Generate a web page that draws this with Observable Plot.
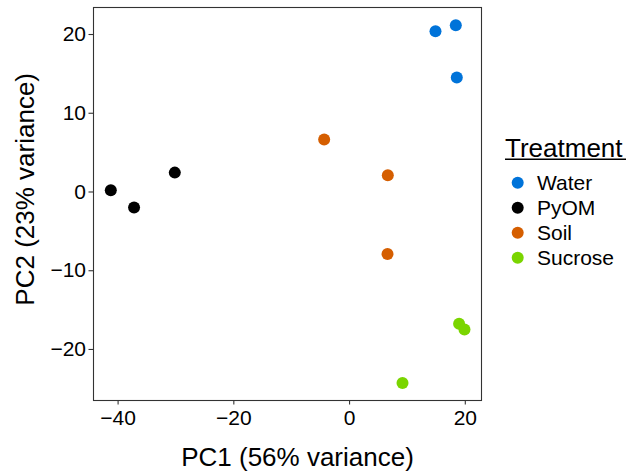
<!DOCTYPE html>
<html>
<head>
<meta charset="utf-8">
<script src="https://cdn.jsdelivr.net/npm/d3@7"></script>
<script src="https://cdn.jsdelivr.net/npm/@observablehq/plot@0.6"></script>
<style>
  html, body { margin: 0; padding: 0; background: #fff; }
  #chart { width: 628px; height: 474px; }
  svg { font-family: "Liberation Sans", Arial, Helvetica, sans-serif; }
</style>
</head>
<body>
<div id="chart"></div>
<script>
const treatments = ["Water", "PyOM", "Soil", "Sucrose"];
const colors = ["#0073D9", "#000000", "#D55E00", "#7AD500"];

const sampleTreatment = ["Water", "Water", "Water", "PyOM", "PyOM", "PyOM", "Soil", "Soil", "Soil", "Sucrose", "Sucrose", "Sucrose"];
const pc1 = [14.85, 18.36, 18.53, -41.26, -37.24, -30.2, -4.39, 6.61, 6.56, 18.93, 19.86, 9.15];
const pc2 = [20.42, 21.18, 14.54, 0.22, -1.98, 2.46, 6.66, 2.12, -7.88, -16.72, -17.45, -24.27];

const xTicks = [-40, -20, 0, 20];
const yTicks = [-20, -10, 0, 10, 20];

const data = pc1.map((v, i) => ({ pc1: v, pc2: pc2[i], treatment: sampleTreatment[i] }));

const fmt = d => (d < 0 ? "\u2212" + Math.abs(d) : String(d));

const plot = Plot.plot({
  width: 628,
  height: 474,
  marginLeft: 93,
  marginRight: 147,
  marginTop: 7,
  marginBottom: 74,
  style: { fontFamily: "Liberation Sans, Arial, Helvetica, sans-serif", background: "#fff", overflow: "visible" },
  x: { domain: [-44.25, 22.8], ticks: xTicks, tickFormat: fmt, label: null },
  y: { domain: [-26.48, 23.43], ticks: yTicks, tickFormat: fmt, label: null },
  color: { domain: treatments, range: colors },
  marks: [
    Plot.axisX({ ticks: xTicks, tickFormat: fmt, tickSize: 4.5, tickPadding: 5, fontSize: 21, stroke: "#333", strokeWidth: 1.1, fill: "#000", label: null }),
    Plot.axisY({ ticks: yTicks, tickFormat: fmt, tickSize: 4.5, tickPadding: 3, fontSize: 21, stroke: "#333", strokeWidth: 1.1, fill: "#000", label: null }),
    Plot.dot(data, { x: "pc1", y: "pc2", fill: "treatment", r: 6, stroke: "none" }),
    Plot.frame({ stroke: "#333", strokeWidth: 1.1 }),
    Plot.text(["PC1 (56% variance)"], { frameAnchor: "bottom", text: d => d, dx: 10, dy: 65, lineAnchor: "bottom", textAnchor: "middle", fontSize: 26, fill: "#000" }),
    Plot.text(["PC2 (23% variance)"], { frameAnchor: "left", text: d => d, dx: -60, dy: -14.7, rotate: -90, lineAnchor: "bottom", textAnchor: "middle", fontSize: 26, fill: "#000" })
  ]
});

document.getElementById("chart").appendChild(plot);

// Legend
const svg = d3.select(plot);
const lg = svg.append("g").attr("font-family", "Liberation Sans, Arial, Helvetica, sans-serif").attr("text-anchor", "start");
lg.append("text").attr("x", 505).attr("y", 156.7).attr("font-size", 26).attr("fill", "#000").attr("text-anchor", "start").text("Treatment");
lg.append("line").attr("x1", 505).attr("x2", 626).attr("y1", 159.2).attr("y2", 159.2).attr("stroke", "#000").attr("stroke-width", 1.4);
treatments.forEach((t, i) => {
  const cy = 182.7 + i * 25;
  lg.append("circle").attr("cx", 517.7).attr("cy", cy).attr("r", 6).attr("fill", colors[i]);
  lg.append("text").attr("x", 537).attr("y", cy).attr("dy", "0.36em").attr("font-size", 21).attr("fill", "#000").attr("text-anchor", "start").text(t);
});
</script>
</body>
</html>
